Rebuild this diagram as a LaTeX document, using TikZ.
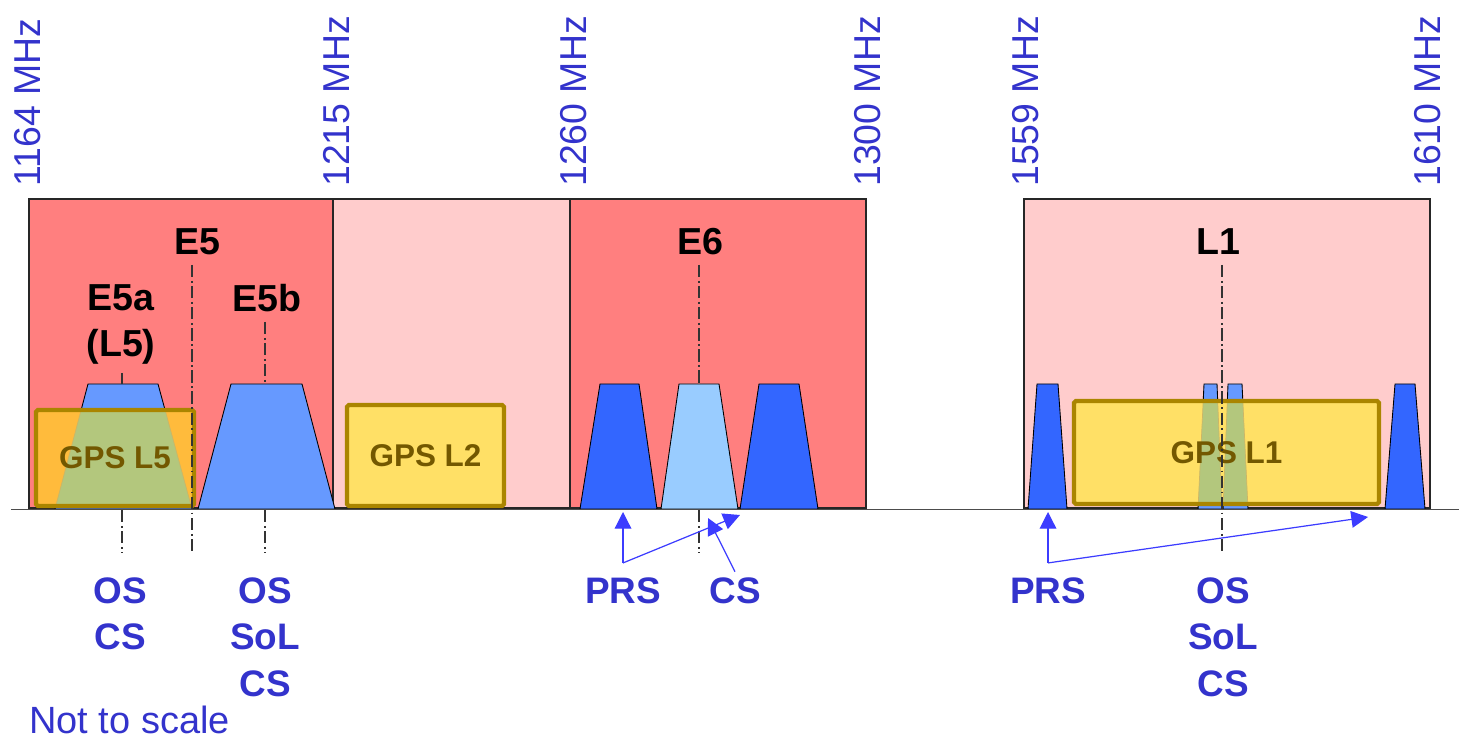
\documentclass[tikz,border=0pt]{standalone}
\usepackage{fontspec}
\setmainfont{Liberation Sans}
\usetikzlibrary{arrows.meta}
\definecolor{BandRed}{HTML}{FF7F7F}
\definecolor{BandPink}{HTML}{FFCCCC}
\definecolor{SigBlue}{HTML}{6699FF}
\definecolor{SigDark}{HTML}{3366FF}
\definecolor{SigLight}{HTML}{99CCFF}
\definecolor{GpsYellow}{HTML}{FFE066}
\definecolor{GpsOrange}{HTML}{FFBB3C}
\definecolor{GpsGreen}{HTML}{B3C77D}
\definecolor{GpsBorder}{HTML}{AA8500}
\definecolor{GpsText}{HTML}{735800}
\definecolor{LabelBlue}{HTML}{3333CC}
\definecolor{ArrowBlue}{HTML}{3C3CFF}

\begin{document}
\begin{tikzpicture}[
    x=0.02cm, y=-0.02cm,
    band/.style={draw=black!85, line width=0.7pt},
    sig/.style={draw=black, line width=0.5pt},
    gpsfill/.style={rectangle, inner sep=0pt, fill=#1},
    gpsbox/.style={rectangle, draw=GpsBorder, line width=2.4pt, rounded corners=1pt, inner sep=0pt, font=\fontsize{17.9}{20}\selectfont\bfseries, text=GpsText},
    overlap/.style={fill=GpsGreen, draw=GpsBorder!60, line width=0.4pt},
    freq/.style={rotate=90, anchor=west, inner sep=0pt, text=LabelBlue, font=\fontsize{21.3}{25}\selectfont},
    bandname/.style={inner sep=0pt, align=center, font=\fontsize{21.4}{26.2}\selectfont\bfseries},
    service/.style={inner sep=0pt, anchor=north, align=center, text=LabelBlue, font=\fontsize{21}{26.5}\selectfont\bfseries},
    centre/.style={black!80, line width=0.6pt, dash pattern=on 7pt off 2pt on 1pt off 2pt},
    sigarrow/.style={-{Triangle[length=9.5pt, width=9.5pt]}, draw=ArrowBlue, line width=0.7pt}
  ]
    \useasboundingbox (0,0) rectangle (1459,742);

    % Bands
    \draw[band, fill=BandRed] (29,199) rectangle (333,508);
    \draw[band, fill=BandPink] (333,199) rectangle (570,508);
    \draw[band, fill=BandRed] (570,199) rectangle (866,508);
    \draw[band, fill=BandPink] (1024,199) rectangle (1430,508);

    % Signals
    \filldraw[sig, fill=SigBlue] (55,509) -- (88,384) -- (158,384) -- (192,509) -- cycle;
    \filldraw[sig, fill=SigBlue] (198,509) -- (231,384) -- (302,384) -- (335,509) -- cycle;
    \filldraw[sig, fill=SigDark] (580,509) -- (600,384) -- (639,384) -- (657,509) -- cycle;
    \filldraw[sig, fill=SigLight] (661,509) -- (679,384) -- (719,384) -- (738,509) -- cycle;
    \filldraw[sig, fill=SigDark] (740,509) -- (759,384) -- (799,384) -- (818,509) -- cycle;
    \filldraw[sig, fill=SigDark] (1028,509) -- (1037,384) -- (1058,384) -- (1067,509) -- cycle;
    \filldraw[sig, fill=SigBlue] (1198,509) -- (1204,384) -- (1217,384) -- (1222,509) -- cycle;
    \filldraw[sig, fill=SigBlue] (1223,509) -- (1228,384) -- (1242,384) -- (1248,509) -- cycle;
    \filldraw[sig, fill=SigDark] (1385,509) -- (1395,384) -- (1415,384) -- (1425,509) -- cycle;

    \draw[black!70, line width=0.9pt] (11,509.5) -- (1459,509.5);

    % GPS bands
    \node[gpsfill=GpsOrange, minimum width=3.16cm, minimum height=1.92cm] (gpsL5) at (115,458) {};
    \begin{scope}
      \clip (gpsL5.south west) rectangle (gpsL5.north east);
      \filldraw[overlap] (55,509) -- (88,384) -- (158,384) -- (192,509) -- cycle;
    \end{scope}
    \node[gpsbox, minimum width=3.16cm, minimum height=1.92cm] (gpsL5label) at (gpsL5) {GPS L5};

    \node[gpsbox, fill=GpsYellow, minimum width=3.14cm, minimum height=2.02cm] (gpsL2) at (425.5,455.5) {GPS L2};

    \node[gpsfill=GpsYellow, minimum width=6.10cm, minimum height=2.06cm] (gpsL1) at (1226.5,452.5) {};
    \begin{scope}
      \clip (gpsL1.south west) rectangle (gpsL1.north east);
      \filldraw[overlap] (1198,509) -- (1204,384) -- (1217,384) -- (1222,509) -- cycle;
      \filldraw[overlap] (1223,509) -- (1228,384) -- (1242,384) -- (1248,509) -- cycle;
    \end{scope}
    \node[gpsbox, minimum width=6.10cm, minimum height=2.06cm] (gpsL1label) at (gpsL1) {GPS L1};

    % Centre lines
    \draw[centre] (192,265) -- (192,553);
    \draw[centre] (122,373) -- (122,384);
    \draw[centre] (122,510) -- (122,553);
    \draw[centre] (265,322) -- (265,384);
    \draw[centre] (265,510) -- (265,553);
    \draw[centre] (699,265) -- (699,384);
    \draw[centre] (699,510) -- (699,553);
    \draw[centre] (1222,265) -- (1222,553);

    % Frequencies
    \node[freq] (f1164) at (28,187) {1164 MHz};
    \node[freq] (f1215) at (337,187) {1215 MHz};
    \node[freq] (f1260) at (574,187) {1260 MHz};
    \node[freq] (f1300) at (868,187) {1300 MHz};
    \node[freq] (f1559) at (1026,187) {1559 MHz};
    \node[freq] (f1610) at (1428,187) {1610 MHz};

    % Band names
    \node[bandname] (e5) at (197,242) {E5};
    \node[bandname, anchor=north] (e5a) at (121,284) {E5a\\(L5)};
    \node[bandname] (e5b) at (267,298) {E5b};
    \node[bandname] (e6) at (700,242) {E6};
    \node[bandname] (l1) at (1218,242) {L1};

    % Services
    \node[service] (osE5a) at (120,577) {OS\\CS};
    \node[service] (osE5b) at (265,577) {OS\\SoL\\CS};
    \node[service] (prsE6) at (623,577) {PRS};
    \node[service] (csE6) at (735,577) {CS};
    \node[service] (prsL1) at (1048,577) {PRS};
    \node[service] (osL1) at (1223,577) {OS\\SoL\\CS};
    \node[inner sep=0pt, anchor=north west, text=LabelBlue, font=\fontsize{21.6}{26}\selectfont] (note) at (29,706) {Not to scale};

    % Connections
    \coordinate (prsE6knee) at ([yshift=8pt]prsE6.north);
    \coordinate (prsE6tipA) at (623,512);
    \coordinate (prsE6tipB) at (740,515);
    \coordinate (csE6tip) at (708,518);
    \coordinate (prsL1knee) at ([yshift=8pt]prsL1.north);
    \coordinate (prsL1tipA) at (1048,512);
    \coordinate (prsL1tipB) at (1368,517);

    \draw[sigarrow] (prsE6knee) -- (prsE6tipA);
    \draw[sigarrow] (prsE6knee) -- (prsE6tipB);
    \draw[sigarrow] ([yshift=3pt]csE6.north) -- (csE6tip);
    \draw[sigarrow] (prsL1knee) -- (prsL1tipA);
    \draw[sigarrow] (prsL1knee) -- (prsL1tipB);
\end{tikzpicture}
\end{document}
